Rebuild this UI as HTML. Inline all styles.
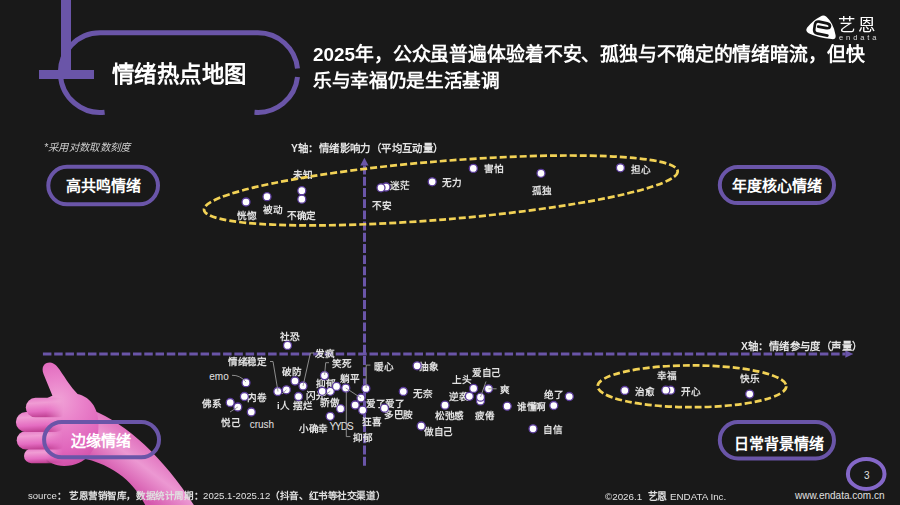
<!DOCTYPE html><html lang="zh-CN"><head><meta charset="utf-8"><style>
html,body{margin:0;padding:0;}body{width:900px;height:505px;overflow:hidden;background:#191919;position:relative;font-family:'Liberation Sans',sans-serif;}
.t{position:absolute;white-space:nowrap;line-height:1;}
svg{position:absolute;left:0;top:0;}
</style></head><body>
<svg width="900" height="505" viewBox="0 0 900 505"><path d="M104.6 112.15 A39.8 39.8 0 1 1 100.2 32.8 L257.9 32.8 A39.8 39.8 0 0 1 297.5 68.4" fill="none" stroke="#6a55a8" stroke-width="5"/><path d="M297.5 77 A39.8 39.8 0 0 1 254.5 112.25" fill="none" stroke="#6a55a8" stroke-width="5"/><rect x="61" y="0" width="10" height="79" fill="#6a55a8"/><rect x="39" y="70" width="55" height="9" fill="#6a55a8"/>
<defs>
 <radialGradient id="hg" cx="0.42" cy="0.3" r="0.75"><stop offset="0" stop-color="#f2a4d8"/><stop offset="0.55" stop-color="#e56fc2"/><stop offset="1" stop-color="#d252aa"/></radialGradient>
 <linearGradient id="ag" gradientUnits="userSpaceOnUse" x1="150" y1="438" x2="118" y2="480"><stop offset="0" stop-color="#dc62b6"/><stop offset="0.5" stop-color="#ec98d2"/><stop offset="1" stop-color="#d456ac"/></linearGradient>
 <linearGradient id="fmg" gradientUnits="userSpaceOnUse" x1="46" y1="0" x2="63" y2="0"><stop offset="0" stop-color="#fff"/><stop offset="1" stop-color="#000"/></linearGradient>
 <mask id="fm" maskUnits="userSpaceOnUse" x="0" y="380" width="120" height="100"><rect x="0" y="380" width="120" height="100" fill="url(#fmg)"/></mask>
 <linearGradient id="fg" x1="0" y1="0" x2="0.15" y2="1"><stop offset="0" stop-color="#e57ac6"/><stop offset="0.3" stop-color="#f09cd4"/><stop offset="0.72" stop-color="#e46cc1"/><stop offset="1" stop-color="#c24496"/></linearGradient>
 <radialGradient id="tg" gradientUnits="userSpaceOnUse" cx="60" cy="405" r="62" fx="58" fy="400"><stop offset="0" stop-color="#f0a2d6"/><stop offset="0.35" stop-color="#ea84cb"/><stop offset="0.75" stop-color="#e066bc"/><stop offset="1" stop-color="#d050a8"/></radialGradient>
</defs>
<path d="M92 410 C128 424 166 460 197 510 L148.5 512 C139 490 122 466 78 457 Z" fill="url(#ag)"/>
<path d="M55 402 L43.5 374 C41 367 44 362.5 50 362.5 C54 362.7 57 366 59.5 369.5 C66 379 72 390 84 400 Z" fill="url(#tg)"/>
<path d="M40 405 C45 396 60 392.5 74 393.5 C90 395 98.5 408 98.5 425 C98.5 450 86 466 64 466 C46 466 38 452 38 432 Z" fill="url(#tg)"/>
<g mask="url(#fm)">
<rect x="24" y="448.6" width="44" height="14.6" rx="7.3" fill="url(#fg)"/>
<rect x="16.7" y="431" width="50" height="18.5" rx="9.2" fill="url(#fg)"/>
<rect x="15.9" y="412" width="50" height="20" rx="10" fill="url(#fg)"/>
<rect x="25.8" y="397.8" width="42" height="19.5" rx="9.7" fill="url(#fg)"/>
</g>
<rect x="48.3" y="166.8" width="109.7" height="37.5" rx="18.75" ry="18.75" fill="none" stroke="#6a55a8" stroke-width="4"/><rect x="719.8" y="167.1" width="114.20000000000005" height="36.0" rx="18.0" ry="18.0" fill="none" stroke="#6a55a8" stroke-width="4"/><rect x="719.8" y="422.0" width="114.20000000000005" height="36.39999999999998" rx="18.19999999999999" ry="18.19999999999999" fill="none" stroke="#6a55a8" stroke-width="4"/><rect x="44.1" y="422.1" width="114.9" height="35.19999999999999" rx="17.599999999999994" ry="17.599999999999994" fill="none" stroke="#6a55a8" stroke-width="4"/><ellipse cx="866.2" cy="473.9" rx="18.3" ry="15" fill="none" stroke="#8467c8" stroke-width="4"/><line x1="42.93" y1="354" x2="845.5" y2="354" stroke="#6a55a8" stroke-width="3" stroke-dasharray="8.5 2.76"/><path d="M845.3 350.2 L853.3 354 L845.3 357.8 Z" fill="#6a55a8"/><line x1="364.5" y1="165.6" x2="364.5" y2="465.8" stroke="#6a55a8" stroke-width="3" stroke-dasharray="8.9 2.3"/><path d="M360.3 165.5 L364.4 157.8 L368.5 165.5 Z" fill="#6a55a8"/><path d="M820.5 16.4 Q823.6 14.4 826.4 16.8 Q833.5 23 835.6 35.2 Q836.2 39.6 831.8 39.1 Q818 37.8 808.6 33.2 Q804.8 31 807.2 27.6 Q812.5 20.5 820.5 16.4 Z" fill="#fff"/>
<path d="M827.4 35.6 L817.6 33.7 Q813.7 32.9 814.2 29.4 L814.9 24.6 Q815.4 21 819 21.6 L827 23.4 Q830.4 24.2 829.9 26.7 Q829.4 28.7 826.4 28.1 L818.2 26.7" fill="none" stroke="#141414" stroke-width="2.7" stroke-linecap="round" stroke-linejoin="round"/></svg>
<div class="t" style="left:112.0px;top:64.0px;font-size:22px;transform:scale(1.0182);transform-origin:0 0;font-weight:bold;color:#fff;">情绪热点地图</div>
<div class="t" style="left:313.3px;top:45.3px;font-size:19px;transform:scale(0.9932);transform-origin:0 0;font-weight:bold;color:#fff;">2025年，公众虽普遍体验着不安、孤独与不确定的情绪暗流，但快</div>
<div class="t" style="left:313.3px;top:70.5px;font-size:19px;transform:scale(0.9826);transform-origin:0 0;font-weight:bold;color:#fff;">乐与幸福仍是生活基调</div>
<div class="t" style="left:44.0px;top:142.7px;font-size:10px;transform:scale(1.0330);transform-origin:0 0;font-weight:normal;color:#cfcfcf;font-style:italic;">*采用对数取数刻度</div>
<div class="t" style="left:65.7px;top:177.8px;font-size:15px;font-weight:900;color:#fff;">高共鸣情绪</div>
<div class="t" style="left:732.2px;top:177.8px;font-size:15px;font-weight:bold;color:#fff;">年度核心情绪</div>
<div class="t" style="left:733.6px;top:435.6px;font-size:15px;font-weight:bold;color:#fff;">日常背景情绪</div>
<div class="t" style="left:71.0px;top:432.8px;font-size:15px;font-weight:bold;color:#fff;">边缘情绪</div>
<div class="t" style="left:291.0px;top:144.1px;font-size:10px;transform:scale(1.0400);transform-origin:0 0;font-weight:bold;color:#e4e4e4;">Y轴：情绪影响力（平均互动量）</div>
<div class="t" style="left:740.8px;top:342.3px;font-size:10px;transform:scale(1.0400);transform-origin:0 0;font-weight:bold;color:#e4e4e4;">X轴：情绪参与度（声量）</div>
<div class="t" style="left:237.4px;top:211.0px;font-size:10px;transform:scale(0.9600);transform-origin:0 0;font-weight:bold;color:#e2e2e2;">恍惚</div>
<div class="t" style="left:263.0px;top:205.0px;font-size:10px;transform:scale(0.9600);transform-origin:0 0;font-weight:bold;color:#e2e2e2;">被动</div>
<div class="t" style="left:293.0px;top:170.4px;font-size:10px;transform:scale(0.9600);transform-origin:0 0;font-weight:bold;color:#e2e2e2;">未知</div>
<div class="t" style="left:287.0px;top:211.0px;font-size:10px;transform:scale(0.9600);transform-origin:0 0;font-weight:bold;color:#e2e2e2;">不确定</div>
<div class="t" style="left:372.0px;top:201.0px;font-size:10px;transform:scale(0.9600);transform-origin:0 0;font-weight:bold;color:#e2e2e2;">不安</div>
<div class="t" style="left:390.0px;top:181.0px;font-size:10px;transform:scale(0.9600);transform-origin:0 0;font-weight:bold;color:#e2e2e2;">迷茫</div>
<div class="t" style="left:441.8px;top:177.8px;font-size:10px;transform:scale(0.9600);transform-origin:0 0;font-weight:bold;color:#e2e2e2;">无力</div>
<div class="t" style="left:483.8px;top:164.4px;font-size:10px;transform:scale(0.9600);transform-origin:0 0;font-weight:bold;color:#e2e2e2;">害怕</div>
<div class="t" style="left:532.0px;top:185.6px;font-size:10px;transform:scale(0.9600);transform-origin:0 0;font-weight:bold;color:#e2e2e2;">孤独</div>
<div class="t" style="left:631.0px;top:165.4px;font-size:10px;transform:scale(0.9600);transform-origin:0 0;font-weight:bold;color:#e2e2e2;">担心</div>
<div class="t" style="left:280.4px;top:332.0px;font-size:10px;transform:scale(0.9600);transform-origin:0 0;font-weight:bold;color:#e2e2e2;">社恐</div>
<div class="t" style="left:209.3px;top:371.5px;font-size:10px;font-weight:normal;color:#e2e2e2;">emo</div>
<div class="t" style="left:228.4px;top:357.3px;font-size:10px;transform:scale(0.9600);transform-origin:0 0;font-weight:bold;color:#e2e2e2;">情绪稳定</div>
<div class="t" style="left:277.0px;top:400.5px;font-size:10px;transform:scale(0.9600);transform-origin:0 0;font-weight:bold;color:#e2e2e2;">i人</div>
<div class="t" style="left:281.8px;top:366.8px;font-size:10px;transform:scale(0.9600);transform-origin:0 0;font-weight:bold;color:#e2e2e2;">破防</div>
<div class="t" style="left:315.3px;top:348.9px;font-size:10px;transform:scale(0.9600);transform-origin:0 0;font-weight:bold;color:#e2e2e2;">发疯</div>
<div class="t" style="left:293.3px;top:401.2px;font-size:10px;transform:scale(0.9600);transform-origin:0 0;font-weight:bold;color:#e2e2e2;">摆烂</div>
<div class="t" style="left:305.8px;top:390.8px;font-size:10px;transform:scale(0.9600);transform-origin:0 0;font-weight:bold;color:#e2e2e2;">闪光</div>
<div class="t" style="left:332.2px;top:359.3px;font-size:10px;transform:scale(0.9600);transform-origin:0 0;font-weight:bold;color:#e2e2e2;">笑死</div>
<div class="t" style="left:316.0px;top:378.7px;font-size:10px;transform:scale(0.9600);transform-origin:0 0;font-weight:bold;color:#e2e2e2;">抑郁</div>
<div class="t" style="left:340.2px;top:373.8px;font-size:10px;transform:scale(0.9600);transform-origin:0 0;font-weight:bold;color:#e2e2e2;">躺平</div>
<div class="t" style="left:320.0px;top:398.0px;font-size:10px;transform:scale(0.9600);transform-origin:0 0;font-weight:bold;color:#e2e2e2;">骄傲</div>
<div class="t" style="left:329.4px;top:421.6px;font-size:10px;font-weight:normal;color:#e2e2e2;letter-spacing:-1px;">YYDS</div>
<div class="t" style="left:298.8px;top:424.0px;font-size:10px;transform:scale(0.9600);transform-origin:0 0;font-weight:bold;color:#e2e2e2;">小确幸</div>
<div class="t" style="left:353.4px;top:432.7px;font-size:10px;transform:scale(0.9600);transform-origin:0 0;font-weight:bold;color:#e2e2e2;">抑郁</div>
<div class="t" style="left:373.9px;top:361.6px;font-size:10px;transform:scale(0.9600);transform-origin:0 0;font-weight:bold;color:#e2e2e2;">暖心</div>
<div class="t" style="left:361.7px;top:416.8px;font-size:10px;transform:scale(0.9600);transform-origin:0 0;font-weight:bold;color:#e2e2e2;">狂喜</div>
<div class="t" style="left:366.2px;top:399.0px;font-size:10px;transform:scale(0.9600);transform-origin:0 0;font-weight:bold;color:#e2e2e2;">爱了爱了</div>
<div class="t" style="left:383.7px;top:410.2px;font-size:10px;transform:scale(0.9600);transform-origin:0 0;font-weight:bold;color:#e2e2e2;">多巴胺</div>
<div class="t" style="left:419.0px;top:361.6px;font-size:10px;transform:scale(0.9600);transform-origin:0 0;font-weight:bold;color:#e2e2e2;">抽象</div>
<div class="t" style="left:413.4px;top:388.7px;font-size:10px;transform:scale(0.9600);transform-origin:0 0;font-weight:bold;color:#e2e2e2;">无奈</div>
<div class="t" style="left:434.8px;top:411.2px;font-size:10px;transform:scale(0.9600);transform-origin:0 0;font-weight:bold;color:#e2e2e2;">松弛感</div>
<div class="t" style="left:424.0px;top:427.0px;font-size:10px;transform:scale(0.9600);transform-origin:0 0;font-weight:bold;color:#e2e2e2;">做自己</div>
<div class="t" style="left:472.2px;top:368.3px;font-size:10px;transform:scale(0.9600);transform-origin:0 0;font-weight:bold;color:#e2e2e2;">爱自己</div>
<div class="t" style="left:452.2px;top:375.4px;font-size:10px;transform:scale(0.9600);transform-origin:0 0;font-weight:bold;color:#e2e2e2;">上头</div>
<div class="t" style="left:449.0px;top:391.6px;font-size:10px;transform:scale(0.9600);transform-origin:0 0;font-weight:bold;color:#e2e2e2;">逆袭</div>
<div class="t" style="left:500.3px;top:384.5px;font-size:10px;transform:scale(0.9600);transform-origin:0 0;font-weight:bold;color:#e2e2e2;">爽</div>
<div class="t" style="left:475.0px;top:410.6px;font-size:10px;transform:scale(0.9600);transform-origin:0 0;font-weight:bold;color:#e2e2e2;">疲倦</div>
<div class="t" style="left:517.3px;top:402.0px;font-size:10px;transform:scale(0.9600);transform-origin:0 0;font-weight:bold;color:#e2e2e2;">谁懂啊</div>
<div class="t" style="left:544.4px;top:390.3px;font-size:10px;transform:scale(0.9600);transform-origin:0 0;font-weight:bold;color:#e2e2e2;">绝了</div>
<div class="t" style="left:543.1px;top:425.0px;font-size:10px;transform:scale(0.9600);transform-origin:0 0;font-weight:bold;color:#e2e2e2;">自信</div>
<div class="t" style="left:201.7px;top:399.4px;font-size:10px;transform:scale(0.9600);transform-origin:0 0;font-weight:bold;color:#e2e2e2;">佛系</div>
<div class="t" style="left:221.0px;top:417.6px;font-size:10px;transform:scale(0.9600);transform-origin:0 0;font-weight:bold;color:#e2e2e2;">悦己</div>
<div class="t" style="left:247.0px;top:393.0px;font-size:10px;transform:scale(0.9600);transform-origin:0 0;font-weight:bold;color:#e2e2e2;">内卷</div>
<div class="t" style="left:249.7px;top:419.5px;font-size:10px;font-weight:normal;color:#e2e2e2;">crush</div>
<div class="t" style="left:635.0px;top:387.0px;font-size:10px;transform:scale(0.9600);transform-origin:0 0;font-weight:bold;color:#e2e2e2;">治愈</div>
<div class="t" style="left:657.0px;top:370.6px;font-size:10px;transform:scale(0.9600);transform-origin:0 0;font-weight:bold;color:#e2e2e2;">幸福</div>
<div class="t" style="left:680.5px;top:387.0px;font-size:10px;transform:scale(0.9600);transform-origin:0 0;font-weight:bold;color:#e2e2e2;">开心</div>
<div class="t" style="left:740.2px;top:374.0px;font-size:10px;transform:scale(0.9600);transform-origin:0 0;font-weight:bold;color:#e2e2e2;">快乐</div>
<div class="t" style="left:27.8px;top:491.0px;font-size:10px;transform:scale(0.9580);transform-origin:0 0;font-weight:bold;color:#e0e0e0;"><span style="font-weight:normal">source</span>： 艺恩营销智库，数据统计周期：<span style="font-weight:normal">2025.1-2025.12</span>（抖音、红书等社交渠道）</div>
<div class="t" style="left:605.0px;top:492.0px;font-size:10px;transform:scale(0.9800);transform-origin:0 0;font-weight:normal;color:#e0e0e0;white-space:pre;">©2026.1  <span style="font-weight:bold">艺恩</span> ENDATA Inc.</div>
<div class="t" style="left:795.0px;top:491.0px;font-size:10px;font-weight:normal;color:#e0e0e0;">www.endata.com.cn</div>
<div class="t" style="left:863.9px;top:470.9px;font-size:10px;font-weight:normal;color:#e0e0e0;">3</div>
<div class="t" style="left:838.2px;top:15.5px;font-size:18px;transform:scale(0.9722);transform-origin:0 0;font-weight:normal;color:#fff;letter-spacing:2.6px;">艺恩</div>
<div class="t" style="left:839.0px;top:34.3px;font-size:8px;transform:scale(0.9375);transform-origin:0 0;font-weight:normal;color:#ddd;letter-spacing:3.1px;">endata</div>
<svg width="900" height="505" viewBox="0 0 900 505"><ellipse cx="440.85" cy="190.45" rx="237.6" ry="29.2" transform="rotate(-4.67 440.85 190.45)" fill="none" stroke="#f2d256" stroke-width="2.7" stroke-dasharray="7 3"/><ellipse cx="692" cy="386.3" rx="94.3" ry="20.9" fill="none" stroke="#f2d256" stroke-width="2.7" stroke-dasharray="7 3"/><circle cx="246" cy="202" r="4" fill="#fff" stroke="#5a3a9c" stroke-width="1.3"/><circle cx="267" cy="196.7" r="4" fill="#fff" stroke="#5a3a9c" stroke-width="1.3"/><circle cx="301.8" cy="190.7" r="4" fill="#fff" stroke="#5a3a9c" stroke-width="1.3"/><circle cx="301.8" cy="199.2" r="4" fill="#fff" stroke="#5a3a9c" stroke-width="1.3"/><circle cx="386" cy="187" r="4" fill="#fff" stroke="#5a3a9c" stroke-width="1.3"/><circle cx="381" cy="187.8" r="4" fill="#fff" stroke="#5a3a9c" stroke-width="1.3"/><circle cx="432.2" cy="181.8" r="4" fill="#fff" stroke="#5a3a9c" stroke-width="1.3"/><circle cx="473.3" cy="168.4" r="4" fill="#fff" stroke="#5a3a9c" stroke-width="1.3"/><circle cx="541" cy="173.3" r="4" fill="#fff" stroke="#5a3a9c" stroke-width="1.3"/><circle cx="620.4" cy="167.8" r="4" fill="#fff" stroke="#5a3a9c" stroke-width="1.3"/><circle cx="287.5" cy="345.4" r="4" fill="#fff" stroke="#5a3a9c" stroke-width="1.3"/><circle cx="246" cy="382.7" r="4" fill="#fff" stroke="#5a3a9c" stroke-width="1.3"/><circle cx="277.8" cy="391.5" r="4" fill="#fff" stroke="#5a3a9c" stroke-width="1.3"/><circle cx="286.4" cy="389.8" r="4" fill="#fff" stroke="#5a3a9c" stroke-width="1.3"/><circle cx="295" cy="381" r="4" fill="#fff" stroke="#5a3a9c" stroke-width="1.3"/><circle cx="303" cy="386" r="4" fill="#fff" stroke="#5a3a9c" stroke-width="1.3"/><circle cx="298.5" cy="396.5" r="4" fill="#fff" stroke="#5a3a9c" stroke-width="1.3"/><circle cx="324.5" cy="375.6" r="4" fill="#fff" stroke="#5a3a9c" stroke-width="1.3"/><circle cx="322.3" cy="391.3" r="4" fill="#fff" stroke="#5a3a9c" stroke-width="1.3"/><circle cx="330.3" cy="391.3" r="4" fill="#fff" stroke="#5a3a9c" stroke-width="1.3"/><circle cx="336.5" cy="386.4" r="4" fill="#fff" stroke="#5a3a9c" stroke-width="1.3"/><circle cx="345.8" cy="388.1" r="4" fill="#fff" stroke="#5a3a9c" stroke-width="1.3"/><circle cx="340.6" cy="408.7" r="4" fill="#fff" stroke="#5a3a9c" stroke-width="1.3"/><circle cx="330.2" cy="416.3" r="4" fill="#fff" stroke="#5a3a9c" stroke-width="1.3"/><circle cx="365.9" cy="388.5" r="4" fill="#fff" stroke="#5a3a9c" stroke-width="1.3"/><circle cx="361" cy="398" r="4" fill="#fff" stroke="#5a3a9c" stroke-width="1.3"/><circle cx="355.2" cy="405" r="4" fill="#fff" stroke="#5a3a9c" stroke-width="1.3"/><circle cx="362.7" cy="410.2" r="4" fill="#fff" stroke="#5a3a9c" stroke-width="1.3"/><circle cx="384.5" cy="408.2" r="4" fill="#fff" stroke="#5a3a9c" stroke-width="1.3"/><circle cx="417.1" cy="365.8" r="4" fill="#fff" stroke="#5a3a9c" stroke-width="1.3"/><circle cx="403.3" cy="391.5" r="4" fill="#fff" stroke="#5a3a9c" stroke-width="1.3"/><circle cx="445" cy="405.2" r="4" fill="#fff" stroke="#5a3a9c" stroke-width="1.3"/><circle cx="421.2" cy="426" r="4" fill="#fff" stroke="#5a3a9c" stroke-width="1.3"/><circle cx="473.6" cy="388.4" r="4" fill="#fff" stroke="#5a3a9c" stroke-width="1.3"/><circle cx="469.4" cy="396.3" r="4" fill="#fff" stroke="#5a3a9c" stroke-width="1.3"/><circle cx="488.5" cy="388.8" r="4" fill="#fff" stroke="#5a3a9c" stroke-width="1.3"/><circle cx="480.5" cy="400.9" r="4" fill="#fff" stroke="#5a3a9c" stroke-width="1.3"/><circle cx="480.5" cy="397.2" r="4" fill="#fff" stroke="#5a3a9c" stroke-width="1.3"/><circle cx="507.2" cy="406.2" r="4" fill="#fff" stroke="#5a3a9c" stroke-width="1.3"/><circle cx="553.8" cy="405.5" r="4" fill="#fff" stroke="#5a3a9c" stroke-width="1.3"/><circle cx="569.3" cy="396.5" r="4" fill="#fff" stroke="#5a3a9c" stroke-width="1.3"/><circle cx="533" cy="428.8" r="4" fill="#fff" stroke="#5a3a9c" stroke-width="1.3"/><circle cx="230.2" cy="402.5" r="4" fill="#fff" stroke="#5a3a9c" stroke-width="1.3"/><circle cx="237.8" cy="407" r="4" fill="#fff" stroke="#5a3a9c" stroke-width="1.3"/><circle cx="244.4" cy="396.5" r="4" fill="#fff" stroke="#5a3a9c" stroke-width="1.3"/><circle cx="251.3" cy="412" r="4" fill="#fff" stroke="#5a3a9c" stroke-width="1.3"/><circle cx="624.8" cy="390.5" r="4" fill="#fff" stroke="#5a3a9c" stroke-width="1.3"/><circle cx="670.7" cy="390.2" r="4" fill="#fff" stroke="#5a3a9c" stroke-width="1.3"/><circle cx="665.8" cy="390.2" r="4" fill="#fff" stroke="#5a3a9c" stroke-width="1.3"/><circle cx="749.7" cy="394.1" r="4" fill="#fff" stroke="#5a3a9c" stroke-width="1.3"/><path d="M232 375.3 Q240 375 246 382" fill="none" stroke="#9a9a9a" stroke-width="0.9"/><path d="M270 361.5 L273 361.5 L278 391.5" fill="none" stroke="#9a9a9a" stroke-width="0.9"/><path d="M314 353 L310.4 353 L303 386" fill="none" stroke="#9a9a9a" stroke-width="0.9"/><path d="M329 362.7 L325.7 362.7 L324.6 375" fill="none" stroke="#9a9a9a" stroke-width="0.9"/><path d="M370.4 365.1 L366.2 365.1 L366.2 388" fill="none" stroke="#9a9a9a" stroke-width="0.9"/><path d="M346.3 392 L346.3 436.6 L350.4 436.6" fill="none" stroke="#9a9a9a" stroke-width="0.9"/><path d="M345.8 388 L361 398" fill="none" stroke="#9a9a9a" stroke-width="0.9"/><path d="M480.5 397 L486 381.5" fill="none" stroke="#9a9a9a" stroke-width="0.9"/><path d="M488.5 388.8 L496.6 388.8" fill="none" stroke="#9a9a9a" stroke-width="0.9"/><path d="M237.8 407 L230 412" fill="none" stroke="#9a9a9a" stroke-width="0.9"/><path d="M286.4 389.8 L282 394" fill="none" stroke="#9a9a9a" stroke-width="0.9"/><path d="M330.3 391.3 L323 396" fill="none" stroke="#9a9a9a" stroke-width="0.9"/></svg>
</body></html>
